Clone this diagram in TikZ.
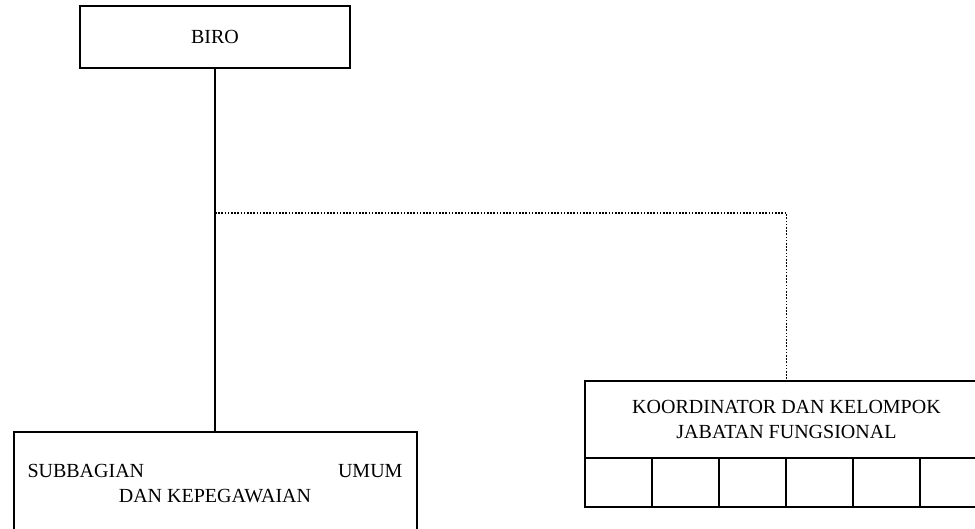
\documentclass[tikz,border=0pt]{standalone}
\usepackage{fontspec}
\setmainfont{Liberation Serif}
\begin{document}
\begin{tikzpicture}[x=0.5pt,y=-0.5pt,
  unit/.style={draw=black, line width=1pt, inner sep=0pt, align=center,
    font=\fontsize{10}{12.5}\selectfont},
  cellbox/.style={draw=black, line width=1pt, inner sep=0pt,
    minimum width=33.5pt, minimum height=24.5pt},
  link/.style={line width=1pt},
  dotlink/.style={line width=0.75pt, dash pattern=on 0.8pt off 0.8pt}]
\useasboundingbox (0,0) rectangle (975,529);
\clip (0,0) rectangle (975,529);

% head unit
\node[unit, minimum width=135pt, minimum height=31pt] (biro) at (215,37) {BIRO};

% general affairs and staffing subdivision
\node[unit, minimum width=201.5pt, minimum height=52pt] (sub) at (215,484)
  {\makebox[187.5pt][s]{SUBBAGIAN\hfill UMUM}\\DAN KEPEGAWAIAN};

% functional group coordinator with its cells
\node[unit, minimum width=201.5pt, minimum height=38.5pt] (koord) at (786.5,419.5)
  {KOORDINATOR DAN KELOMPOK\\JABATAN FUNGSIONAL};
\foreach \k in {0,...,5}
  \node[cellbox] (cell\k) at (618.5+67*\k,482.5) {};

% connectors
\draw[link] (biro.south) -- (sub.north);
\coordinate (junction) at (215,213);
\draw[dotlink] (junction) -| (koord.north);
\end{tikzpicture}
\end{document}
